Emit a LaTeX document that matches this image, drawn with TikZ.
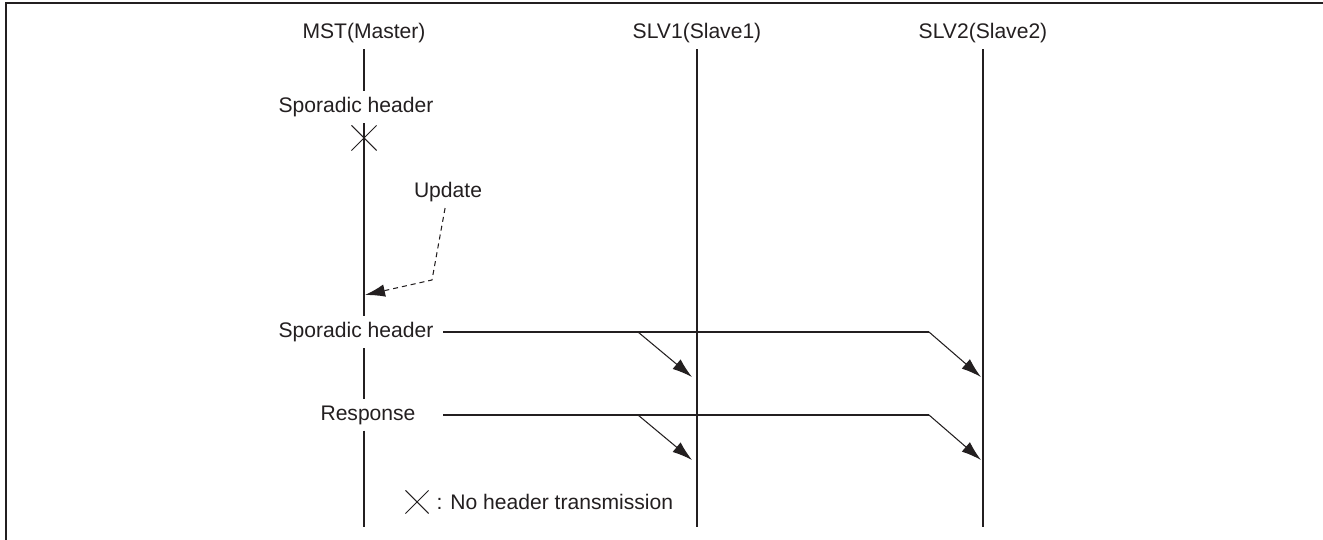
\documentclass[tikz,border=0pt]{standalone}
\usepackage{fontspec}
\setmainfont{Liberation Sans}
\usetikzlibrary{arrows.meta,positioning,shapes.misc}
\definecolor{ink}{RGB}{35,31,32}

\begin{document}
\begin{tikzpicture}[x=0.02cm, y=-0.02cm, >={Latex[length=4mm,width=2.5mm]},
  every node/.style={font=\fontsize{12}{14}\selectfont, text=ink},
  life/.style={draw=ink, line width=0.6pt},
  msg/.style={draw=ink, line width=0.6pt},
  upd/.style={draw=ink, line width=0.6pt, dash pattern=on 1mm off 0.8mm},
  nohdr/.style={draw=ink, line width=0.6pt, cross out, inner sep=0pt}]
\useasboundingbox (0,0) rectangle (1323,540);
\draw[ink, line width=1.5pt] (6,545) -- (6,3) -- (1330,3);

% heads of the lifelines
\node (mst) at (364,33) {MST(Master)};
\node (slv1) at (697,33) {SLV1(Slave1)};
\node (slv2) at (983,33) {SLV2(Slave2)};
\coordinate (mst-end) at (364,527);

% labels sitting on the master line
\node (spor1) at (356,107) {Sporadic header};
\node (spor2) at (356,332) {Sporadic header};
\node (rsp) at (368,415) {Response};
\node[nohdr, minimum size=0.48cm] (skip) at (364,138) {};

\draw[life] (mst) -- (mst |- spor1.north);
\draw[life] (mst |- spor1.south) -- (mst |- spor2.north);
\draw[life] (mst |- spor2.south) -- (mst |- rsp.north);
\draw[life] (mst |- rsp.south) -- (mst-end);
\draw[life] (slv1) -- (slv1 |- mst-end);
\draw[life] (slv2) -- (slv2 |- mst-end);

% update of the schedule
\node (upd) at (448,192) {Update};
\coordinate (upd-bend) at (432,280);
\coordinate (upd-tip) at (365,295);
\draw[upd,->] (upd) -- (upd-bend) -- (upd-tip);

% sporadic header to both slaves
\coordinate (hdr-from) at (443,332);
\coordinate (hdr-s1) at (638,332);
\coordinate (hdr-s2) at (929,332);
\coordinate (hdr-slv1) at (692,377);
\coordinate (hdr-slv2) at (981,377);
\draw[msg] (hdr-from) -- (hdr-s2);
\draw[msg,->] (hdr-s1) -- (hdr-slv1);
\draw[msg,->] (hdr-s2) -- (hdr-slv2);

% response to both slaves
\coordinate (rsp-from) at (443,415);
\coordinate (rsp-s1) at (638,415);
\coordinate (rsp-s2) at (929,415);
\coordinate (rsp-slv1) at (692,460);
\coordinate (rsp-slv2) at (981,460);
\draw[msg] (rsp-from) -- (rsp-s2);
\draw[msg,->] (rsp-s1) -- (rsp-slv1);
\draw[msg,->] (rsp-s2) -- (rsp-slv2);

% legend
\node[nohdr, minimum size=0.44cm] (key) at (417,502) {};
\node[right=0.04cm of key] (keytxt) {: No header transmission};
\end{tikzpicture}
\end{document}
